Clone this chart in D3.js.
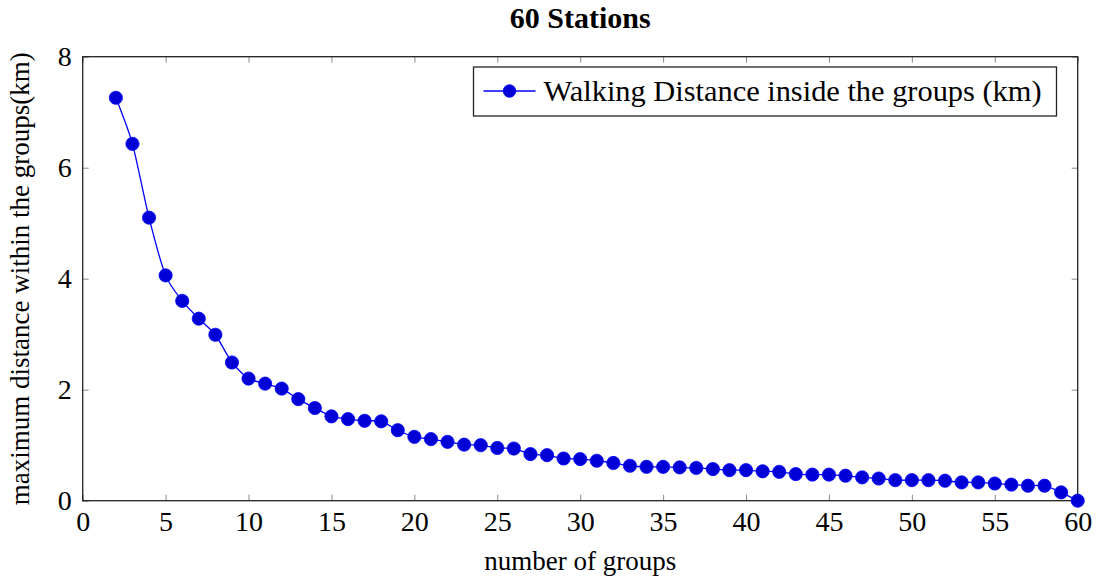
<!DOCTYPE html>
<html>
<head>
<meta charset="utf-8">
<script src="https://cdn.jsdelivr.net/npm/d3@7"></script>
<style>
  body { margin: 0; background: #fff; }
  svg { display: block; }
  svg text { font-family: "Liberation Serif", "DejaVu Serif", serif; }
</style>
</head>
<body>
<svg id="chart" width="1101" height="581"></svg>
<script>
const groups = [2, 3, 4, 5, 6, 7, 8, 9, 10, 11, 12, 13, 14, 15, 16, 17, 18, 19, 20,
  21, 22, 23, 24, 25, 26, 27, 28, 29, 30, 31, 32, 33, 34, 35, 36, 37, 38, 39, 40,
  41, 42, 43, 44, 45, 46, 47, 48, 49, 50, 51, 52, 53, 54, 55, 56, 57, 58, 59, 60];
const distance = [7.26, 6.43, 5.10, 4.06, 3.60, 3.28, 2.99, 2.49, 2.20, 2.11, 2.02,
  1.83, 1.67, 1.52, 1.47, 1.44, 1.43, 1.27, 1.15, 1.11, 1.06, 1.01, 1.00, 0.95,
  0.94, 0.84, 0.82, 0.76, 0.75, 0.72, 0.68, 0.63, 0.61, 0.61, 0.60, 0.59, 0.57,
  0.55, 0.55, 0.53, 0.52, 0.48, 0.47, 0.47, 0.45, 0.42, 0.40, 0.37, 0.37, 0.37,
  0.36, 0.33, 0.33, 0.31, 0.29, 0.27, 0.27, 0.15, 0.0];
const xTicks = [0, 5, 10, 15, 20, 25, 30, 35, 40, 45, 50, 55, 60];
const yTicks = [0, 2, 4, 6, 8];

const title = "60 Stations";
const xLabel = "number of groups";
const yLabel = "maximum distance within the groups(km)";
const legendLabel = "Walking Distance inside the groups (km)";

const margin = { left: 82.7, right: 1101 - 1077.7, top: 56.7, bottom: 581 - 500.7 };
const width = 1101 - margin.left - margin.right;
const height = 581 - margin.top - margin.bottom;

const svg = d3.select("#chart");
const g = svg.append("g").attr("transform", `translate(${margin.left},${margin.top})`);

const x = d3.scaleLinear().domain([0, 60]).range([0, width]);
const y = d3.scaleLinear().domain([0, 8]).range([height, 0]);

const tickColor = "#8a8a8a";
const tickLen = 6;

// axes, ticks pointing inward on all four sides
const xAxis = d3.axisBottom(x).tickValues(xTicks).tickSizeInner(-tickLen).tickSizeOuter(0).tickPadding(10);
const yAxis = d3.axisLeft(y).tickValues(yTicks).tickSizeInner(-tickLen).tickSizeOuter(0).tickPadding(11);
const xTop = d3.axisTop(x).tickValues(xTicks).tickSizeInner(-tickLen).tickSizeOuter(0).tickFormat("");
const yRight = d3.axisRight(y).tickValues(yTicks).tickSizeInner(-tickLen).tickSizeOuter(0).tickFormat("");

function styleAxis(sel) {
  sel.attr("font-family", null).attr("font-size", null);
  sel.select(".domain").remove();
  sel.selectAll(".tick line").attr("stroke", tickColor).attr("stroke-width", 1);
  sel.selectAll(".tick text").attr("fill", "#000").style("font-size", "28px");
}

g.append("g").attr("transform", `translate(0,${height})`).call(xAxis).call(styleAxis)
  .selectAll(".tick text").attr("dy", "0.72em");
g.append("g").call(yAxis).call(styleAxis);
g.append("g").call(xTop).call(styleAxis);
g.append("g").attr("transform", `translate(${width},0)`).call(yRight).call(styleAxis);

// frame
g.append("rect")
  .attr("width", width).attr("height", height)
  .attr("fill", "none").attr("stroke", "#222").attr("stroke-width", 1.3);

// line + markers
const pts = groups.map((d, i) => [d, distance[i]]);
const line = d3.line()
  .x(d => x(d[0]))
  .y(d => y(d[1]))
  .curve(d3.curveCardinal.tension(0.3));

g.append("path")
  .datum(pts)
  .attr("d", line)
  .attr("fill", "none")
  .attr("stroke", "#0000ff")
  .attr("stroke-width", 1.3);

g.selectAll(".pt")
  .data(pts)
  .join("circle")
  .attr("class", "pt")
  .attr("cx", d => x(d[0]))
  .attr("cy", d => y(d[1]))
  .attr("r", 6.6)
  .attr("fill", "#0000d6")
  .attr("stroke", "#0000ff")
  .attr("stroke-width", 0.8);

// title
svg.append("text")
  .attr("x", margin.left + width / 2).attr("y", 28)
  .attr("text-anchor", "middle")
  .style("font-size", "30px").style("font-weight", "bold")
  .text(title);

// axis labels
svg.append("text")
  .attr("x", margin.left + width / 2).attr("y", 570)
  .attr("text-anchor", "middle")
  .style("font-size", "27px")
  .text(xLabel);

svg.append("text")
  .attr("transform", `translate(29,${margin.top + height / 2}) rotate(-90)`)
  .attr("text-anchor", "middle")
  .style("font-size", "27px")
  .text(yLabel);

// legend
const lg = svg.append("g").attr("transform", "translate(473.5,67)");
lg.append("rect")
  .attr("width", 583).attr("height", 49)
  .attr("fill", "#fff").attr("stroke", "#222").attr("stroke-width", 1.3);
lg.append("line")
  .attr("x1", 10).attr("x2", 62).attr("y1", 24).attr("y2", 24)
  .attr("stroke", "#0000ff").attr("stroke-width", 1.3);
lg.append("circle")
  .attr("cx", 36).attr("cy", 24).attr("r", 6.3)
  .attr("fill", "#0000d6").attr("stroke", "#0000ff").attr("stroke-width", 0.8);
lg.append("text")
  .attr("x", 70).attr("y", 34)
  .style("font-size", "30.4px")
  .text(legendLabel);
</script>
</body>
</html>
